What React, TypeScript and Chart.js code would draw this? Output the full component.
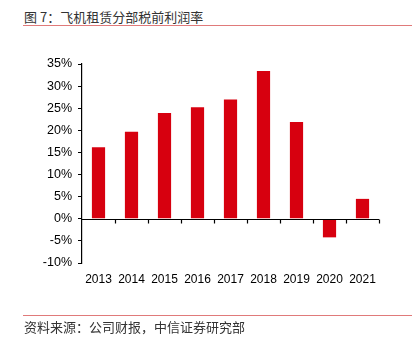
import React, { useEffect, useRef } from "react";
import { Chart, registerables } from "chart.js";

Chart.register(...registerables);

const categories = ["2013", "2014", "2015", "2016", "2017", "2018", "2019", "2020", "2021"];
const margins = [16.2, 19.7, 23.9, 25.2, 27.0, 33.4, 21.9, -4.2, 4.5];
const yTicks = [35, 30, 25, 20, 15, 10, 5, 0, -5, -10];

const titleText = "图 7：飞机租赁分部税前利润率";
const sourceText = "资料来源：公司财报，中信证券研究部";

const zeroLinePlugin = {
  id: "zeroLine",
  afterDatasetsDraw(chart: any) {
    const { ctx, chartArea, scales } = chart;
    const y0 = Math.round(scales.y.getPixelForValue(0)) + 0.5;
    const n = categories.length;
    const w = (chartArea.right - chartArea.left) / n;
    ctx.save();
    ctx.strokeStyle = "#000";
    ctx.lineWidth = 1.2;
    ctx.beginPath();
    ctx.moveTo(chartArea.left, y0);
    ctx.lineTo(chartArea.right, y0);
    for (let i = 1; i <= n; i++) {
      const x = Math.round(chartArea.left + i * w) + 0.5;
      ctx.moveTo(x, y0);
      ctx.lineTo(x, y0 + 4);
    }
    ctx.stroke();
    ctx.restore();
  },
};

export default function App() {
  const ref = useRef<HTMLCanvasElement | null>(null);
  useEffect(() => {
    if (!ref.current) return;
    const chart = new Chart(ref.current, {
      type: "bar",
      data: {
        labels: categories,
        datasets: [
          {
            data: margins,
            backgroundColor: "#d7000f",
            categoryPercentage: 1,
            barPercentage: 0.4,
          },
        ],
      },
      options: {
        animation: false,
        responsive: false,
        maintainAspectRatio: false,
        layout: { padding: { left: 0, right: 35, top: 64, bottom: 0 } },
        plugins: { legend: { display: false }, tooltip: { enabled: false } },
        scales: {
          x: {
            grid: { display: false, drawTicks: false },
            border: { display: false },
            ticks: {
              color: "#000",
              padding: 9,
              maxRotation: 0,
              autoSkip: false,
              font: { family: "'Liberation Sans', Arial, sans-serif", size: 12 },
            },
            afterFit(scale: any) {
              scale.height = 345 - 263;
            },
          },
          y: {
            min: -10,
            max: 35,
            afterBuildTicks(scale: any) {
              scale.ticks = yTicks.map((v) => ({ value: v }));
            },
            grid: {
              display: true,
              drawOnChartArea: false,
              drawTicks: true,
              tickLength: 4,
              color: "#000",
            },
            border: { display: true, color: "#000", width: 1.2 },
            ticks: {
              color: "#000",
              padding: 6,
              font: { family: "'Liberation Sans', Arial, sans-serif", size: 12.5 },
              callback: (v: any) => `${v}%`,
            },
            afterFit(scale: any) {
              scale.width = 82;
            },
          },
        },
      },
      plugins: [zeroLinePlugin],
    });
    return () => chart.destroy();
  }, []);

  const cjk = "'Noto Sans CJK SC', 'Liberation Sans', sans-serif";
  return (
    <div style={{ position: "absolute", left: 0, top: 0, width: 414, height: 345, background: "#fff" }}>
      <div
        style={{
          position: "absolute",
          left: 24,
          top: 8,
          fontFamily: cjk,
          fontSize: 13,
          lineHeight: "17px",
          color: "#333",
          whiteSpace: "nowrap",
        }}
      >
        {titleText}
      </div>
      <div style={{ position: "absolute", left: 23, top: 25, width: 389, height: 1, background: "#e07a7a" }} />
      <canvas ref={ref} width={414} height={345} style={{ position: "absolute", left: 0, top: 0, width: 414, height: 345 }} />
      <div style={{ position: "absolute", left: 23, top: 315, width: 389, height: 1, background: "#e07a7a" }} />
      <div
        style={{
          position: "absolute",
          left: 24,
          top: 318,
          fontFamily: cjk,
          fontSize: 13,
          lineHeight: "17px",
          color: "#333",
          whiteSpace: "nowrap",
        }}
      >
        {sourceText}
      </div>
    </div>
  );
}
